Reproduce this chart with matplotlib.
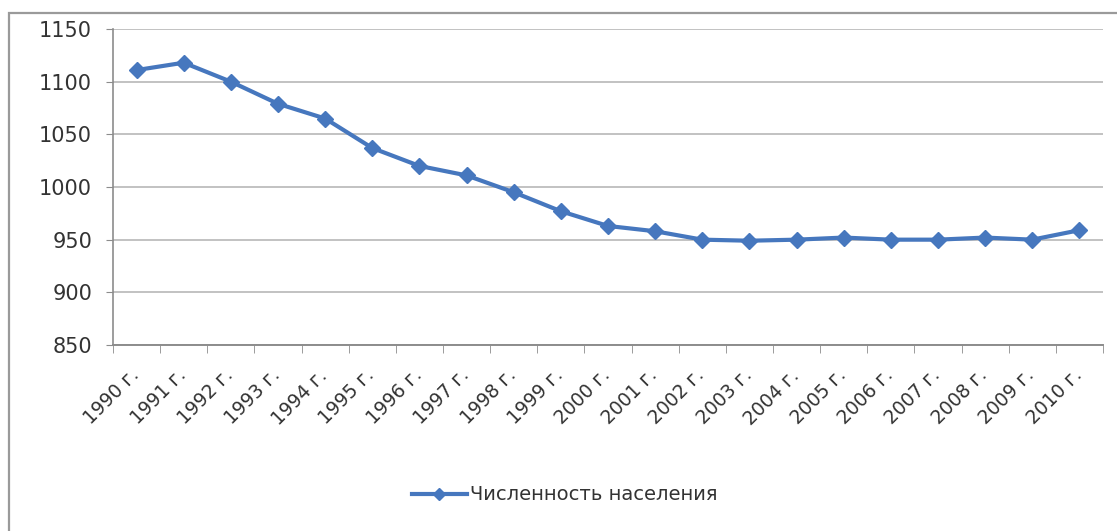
import matplotlib
matplotlib.use("Agg")
import matplotlib.pyplot as plt
import matplotlib.transforms as mtransforms
from matplotlib.patches import Rectangle
import numpy as np

years = list(range(1990, 2011))
labels = [f"{y} г." for y in years]
population = [1111, 1118, 1100, 1079, 1065, 1037, 1020, 1011, 995, 977,
              963, 958, 950, 949, 950, 952, 950, 950, 952, 950, 959]
series_name = "Численность населения"

W, H, DPI = 1117, 531, 100
fig = plt.figure(figsize=(W / DPI, H / DPI), dpi=DPI)
fig.patch.set_facecolor("white")

plt.rcParams["font.family"] = ["DejaVu Sans"]
text_color = "#333333"
blue = "#4677BE"

# chart frame (open to the right and bottom)
fig.add_artist(Rectangle((9.5 / W, -0.1), 1.2, 1 - 13 / H + 0.1,
                         transform=fig.transFigure, fill=False,
                         edgecolor="#9a9a9a", linewidth=1.6))

left, right = 113 / W, 1103 / W
top, bottom = 1 - 29 / H, 1 - 345 / H
ax = fig.add_axes([left, bottom, right - left, top - bottom])

x = np.arange(len(years))
ax.plot(x, population, color=blue, linewidth=3, marker="D", markersize=8.5,
        markerfacecolor=blue, markeredgecolor=blue, label=series_name,
        zorder=3)

ax.set_xlim(-0.5, len(years) - 0.5)
ax.set_ylim(850, 1150)
ax.set_yticks(np.arange(850, 1151, 50))
ax.grid(axis="y", color="#bdbdbd", linewidth=1.3)
ax.set_axisbelow(True)

for s in ["top", "right"]:
    ax.spines[s].set_visible(False)
ax.spines["left"].set_color("#8c8c8c")
ax.spines["bottom"].set_color("#8c8c8c")
ax.spines["left"].set_linewidth(1.2)
ax.spines["bottom"].set_linewidth(1.4)

ax.tick_params(axis="y", length=5, color="#8c8c8c", labelsize=15,
               labelcolor=text_color, pad=10)

# category labels at centres, tick marks between categories
ax.set_xticks(x)
ax.set_xticklabels(labels, rotation=45, ha="right", fontsize=13.5,
                   color=text_color)
ax.tick_params(axis="x", which="major", length=0, pad=15)
ax.set_xticks(np.arange(-0.5, len(years), 1.0), minor=True)
ax.tick_params(axis="x", which="minor", length=6, color="#8c8c8c")

shift = mtransforms.ScaledTranslation(6 / DPI, 0, fig.dpi_scale_trans)
for lab in ax.get_xticklabels():
    lab.set_transform(lab.get_transform() + shift)

fig.legend(loc="center", bbox_to_anchor=(565 / W, 1 - 495 / H),
           frameon=False, fontsize=14, handlelength=2.8, handletextpad=0.2,
           labelcolor=text_color, markerscale=0.7)

fig.savefig("out.png", dpi=DPI, facecolor="white")
